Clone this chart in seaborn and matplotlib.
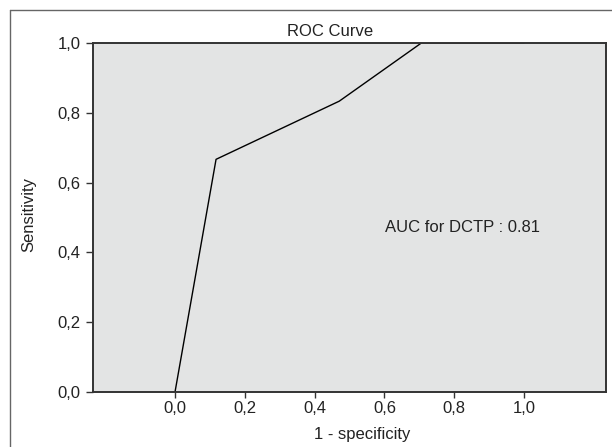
import matplotlib
matplotlib.use("Agg")
import matplotlib.pyplot as plt
from matplotlib.lines import Line2D
import seaborn as sns
import pandas as pd

# Data
fpr = [0.0, 0.1176, 0.4706, 0.7059, 1.0]
tpr = [0.0, 0.6667, 0.8333, 1.0, 1.0]
xticks = [0.0, 0.2, 0.4, 0.6, 0.8, 1.0]
yticks = [0.0, 0.2, 0.4, 0.6, 0.8, 1.0]
xticklabels = ["0,0", "0,2", "0,4", "0,6", "0,8", "1,0"]
yticklabels = ["0,0", "0,2", "0,4", "0,6", "0,8", "1,0"]
title = "ROC Curve"
xlabel = "1 - specificity"
ylabel = "Sensitivity"
annotation = "AUC for DCTP : 0.81"

sns.set_style("white")
plt.rcParams["font.family"] = ["Liberation Sans", "DejaVu Sans"]

W, H = 612, 447
FS = 12
fig = plt.figure(figsize=(W / 100, H / 100), dpi=100)
ax = fig.add_axes([93 / W, 1 - 392 / H, (606 - 93) / W, (392 - 43) / H])
ax.set_facecolor("#e3e4e4")

df = pd.DataFrame({"fpr": fpr, "tpr": tpr})
sns.lineplot(data=df, x="fpr", y="tpr", sort=False, estimator=None,
             color="black", linewidth=1.0, ax=ax)

ax.set_xlim(-0.235, 1.235)
ax.set_ylim(0.0, 1.0)
ax.set_xticks(xticks)
ax.set_xticklabels(xticklabels)
ax.set_yticks(yticks)
ax.set_yticklabels(yticklabels)
ax.tick_params(axis="y", direction="out", length=5, width=1.0, color="#333333",
               labelsize=FS, labelcolor="#222222", pad=4, left=True)
ax.tick_params(axis="x", direction="out", length=4.3, width=1.0, color="#333333",
               labelsize=FS, labelcolor="#222222", pad=2.5, bottom=True)
for s in ax.spines.values():
    s.set_visible(True)
    s.set_color("#333333")
    s.set_linewidth(1.4)
ax.set_xlabel("")
ax.set_ylabel("")

# Titles / labels in figure coordinates
fig.text(330 / W, 1 - 31 / H, title, ha="center", va="center", fontsize=FS, color="#222222")
fig.text(362 / W, 1 - 435 / H, xlabel, ha="center", va="center", fontsize=FS, color="#222222")
fig.text(29 / W, 1 - 215 / H, ylabel, ha="center", va="center", rotation=90, fontsize=FS, color="#222222")
ax.text(0.825, 0.47, annotation, ha="center", va="center", fontsize=FS, color="#222222",
        transform=ax.transData)

# Outer frame (left and top edges visible)
fig.add_artist(Line2D([10 / W, 10 / W], [0, 1 - 10 / H], transform=fig.transFigure,
                      color="#666666", linewidth=1.0))
fig.add_artist(Line2D([10 / W, 1], [1 - 10 / H, 1 - 10 / H], transform=fig.transFigure,
                      color="#666666", linewidth=1.0))

fig.savefig("out.png", dpi=100)
